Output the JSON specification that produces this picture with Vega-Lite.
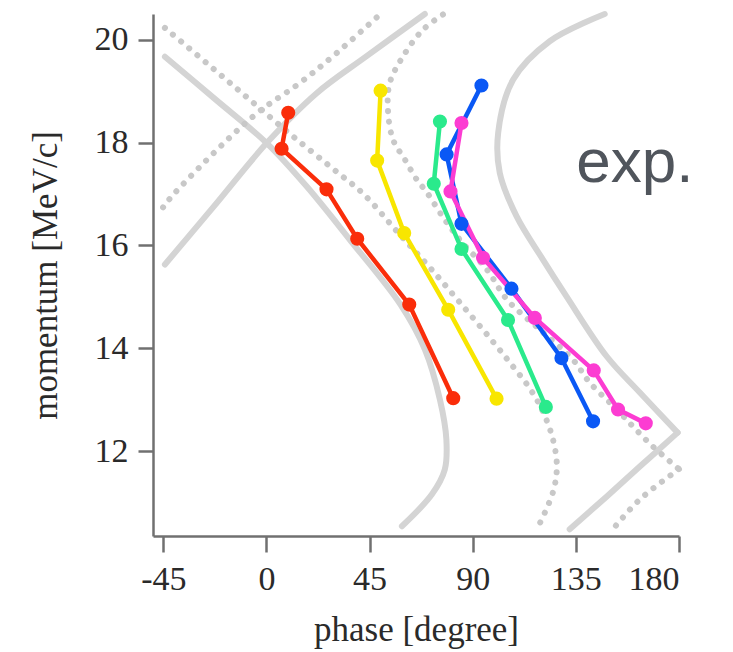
{
  "$schema": "https://vega.github.io/schema/vega-lite/v6.json",
  "autosize": {"type": "none"},
  "width": 526,
  "height": 522,
  "padding": {"left": 153, "top": 14, "right": 54, "bottom": 116},
  "background": "white",
  "config": {
    "view": {"stroke": null},
    "axis": {
      "grid": false,
      "domainColor": "#707070",
      "domainWidth": 2.5,
      "tickColor": "#707070",
      "tickWidth": 2.5,
      "labelFont": "Liberation Serif",
      "labelFontSize": 34,
      "labelColor": "#2a2a2a",
      "titleFont": "Liberation Serif",
      "titleFontSize": 35,
      "titleFontWeight": "normal",
      "titleColor": "#2a2a2a"
    }
  },
  "datasets": {
    "solid": [
      {"c": "S1", "i": 1, "x": -44.3, "y": 19.67},
      {"c": "S1", "i": 2, "x": -22.0, "y": 18.83},
      {"c": "S1", "i": 3, "x": 0.1, "y": 17.99},
      {"c": "S1", "i": 4, "x": 17.5, "y": 17.15},
      {"c": "S1", "i": 5, "x": 36.4, "y": 16.11},
      {"c": "S1", "i": 6, "x": 58.5, "y": 14.85},
      {"c": "S1", "i": 7, "x": 69.1, "y": 13.98},
      {"c": "S1", "i": 8, "x": 75.7, "y": 13.0},
      {"c": "S1", "i": 9, "x": 78.5, "y": 12.23},
      {"c": "S1", "i": 10, "x": 77.8, "y": 11.64},
      {"c": "S1", "i": 11, "x": 72.2, "y": 11.16},
      {"c": "S1", "i": 12, "x": 59.1, "y": 10.54},
      {"c": "S2", "i": 1, "x": -44.3, "y": 15.63},
      {"c": "S2", "i": 2, "x": -23.3, "y": 16.74},
      {"c": "S2", "i": 3, "x": 0.1, "y": 17.99},
      {"c": "S2", "i": 4, "x": 21.9, "y": 18.96},
      {"c": "S2", "i": 5, "x": 43.7, "y": 19.68},
      {"c": "S2", "i": 6, "x": 69.1, "y": 20.5},
      {"c": "S3a", "i": 1, "x": 147.6, "y": 20.5},
      {"c": "S3a", "i": 2, "x": 123.6, "y": 19.97},
      {"c": "S3a", "i": 3, "x": 107.6, "y": 19.22},
      {"c": "S3a", "i": 4, "x": 101.1, "y": 18.19},
      {"c": "S3a", "i": 5, "x": 101.8, "y": 17.41},
      {"c": "S3a", "i": 6, "x": 109.1, "y": 16.57},
      {"c": "S3a", "i": 7, "x": 120.7, "y": 15.72},
      {"c": "S3a", "i": 8, "x": 130.9, "y": 15.01},
      {"c": "S3a", "i": 9, "x": 148.5, "y": 13.84},
      {"c": "S3a", "i": 10, "x": 162.9, "y": 13.14},
      {"c": "S3a", "i": 11, "x": 179.4, "y": 12.36},
      {"c": "S3b", "i": 1, "x": 179.4, "y": 12.36},
      {"c": "S3b", "i": 2, "x": 162.9, "y": 11.7},
      {"c": "S3b", "i": 3, "x": 148.5, "y": 11.12},
      {"c": "S3b", "i": 4, "x": 132.3, "y": 10.48}
    ],
    "dotted": [
      {"c": "D1", "i": 1, "x": -44.3, "y": 20.23},
      {"c": "D1", "i": 2, "x": -24.6, "y": 19.49},
      {"c": "D1", "i": 3, "x": -7.2, "y": 18.83},
      {"c": "D1", "i": 4, "x": 11.6, "y": 18.12},
      {"c": "D1", "i": 5, "x": 30.7, "y": 17.43},
      {"c": "D1", "i": 6, "x": 42.1, "y": 17.01},
      {"c": "D1", "i": 7, "x": 58.2, "y": 16.21},
      {"c": "D1", "i": 8, "x": 71.3, "y": 15.57},
      {"c": "D1", "i": 9, "x": 84.4, "y": 14.89},
      {"c": "D1", "i": 10, "x": 98.8, "y": 14.13},
      {"c": "D1", "i": 11, "x": 107.5, "y": 13.65},
      {"c": "D1", "i": 12, "x": 114.9, "y": 13.22},
      {"c": "D1", "i": 13, "x": 120.6, "y": 12.77},
      {"c": "D1", "i": 14, "x": 125.0, "y": 12.23},
      {"c": "D1", "i": 15, "x": 126.7, "y": 11.7},
      {"c": "D1", "i": 16, "x": 125.0, "y": 11.2},
      {"c": "D1", "i": 17, "x": 118.0, "y": 10.48},
      {"c": "D2", "i": 1, "x": -45.1, "y": 16.74},
      {"c": "D2", "i": 2, "x": -40.6, "y": 16.99},
      {"c": "D2", "i": 3, "x": -5.8, "y": 18.51},
      {"c": "D2", "i": 4, "x": 14.6, "y": 19.16},
      {"c": "D2", "i": 5, "x": 30.6, "y": 19.74},
      {"c": "D2", "i": 6, "x": 49.5, "y": 20.49},
      {"c": "D3a", "i": 1, "x": 77.0, "y": 20.49},
      {"c": "D3a", "i": 2, "x": 68.2, "y": 20.19},
      {"c": "D3a", "i": 3, "x": 59.5, "y": 19.67},
      {"c": "D3a", "i": 4, "x": 53.8, "y": 19.16},
      {"c": "D3a", "i": 5, "x": 53.0, "y": 18.64},
      {"c": "D3a", "i": 6, "x": 55.2, "y": 18.06},
      {"c": "D3a", "i": 7, "x": 60.4, "y": 17.67},
      {"c": "D3a", "i": 8, "x": 65.6, "y": 17.28},
      {"c": "D3a", "i": 9, "x": 70.0, "y": 17.03},
      {"c": "D3a", "i": 10, "x": 77.8, "y": 16.5},
      {"c": "D3a", "i": 11, "x": 85.3, "y": 16.06},
      {"c": "D3a", "i": 12, "x": 96.2, "y": 15.53},
      {"c": "D3a", "i": 13, "x": 104.9, "y": 14.95},
      {"c": "D3a", "i": 14, "x": 119.3, "y": 14.36},
      {"c": "D3a", "i": 15, "x": 133.7, "y": 13.78},
      {"c": "D3a", "i": 16, "x": 141.1, "y": 13.33},
      {"c": "D3a", "i": 17, "x": 152.9, "y": 12.81},
      {"c": "D3a", "i": 18, "x": 159.9, "y": 12.48},
      {"c": "D3a", "i": 19, "x": 168.6, "y": 12.09},
      {"c": "D3a", "i": 20, "x": 180.0, "y": 11.65},
      {"c": "D3b", "i": 1, "x": 180.0, "y": 11.65},
      {"c": "D3b", "i": 2, "x": 162.9, "y": 11.06},
      {"c": "D3b", "i": 3, "x": 151.1, "y": 10.48}
    ],
    "obs": [
      {"g": "red", "i": 1, "x": 9.5, "y": 18.58},
      {"g": "red", "i": 2, "x": 6.6, "y": 17.88},
      {"g": "red", "i": 3, "x": 26.2, "y": 17.09},
      {"g": "red", "i": 4, "x": 39.6, "y": 16.13},
      {"g": "red", "i": 5, "x": 62.3, "y": 14.85},
      {"g": "red", "i": 6, "x": 81.5, "y": 13.03},
      {"g": "yellow", "i": 1, "x": 49.8, "y": 19.01},
      {"g": "yellow", "i": 2, "x": 48.3, "y": 17.65},
      {"g": "yellow", "i": 3, "x": 60.1, "y": 16.24},
      {"g": "yellow", "i": 4, "x": 79.3, "y": 14.75},
      {"g": "yellow", "i": 5, "x": 100.4, "y": 13.02},
      {"g": "green", "i": 1, "x": 75.7, "y": 18.41},
      {"g": "green", "i": 2, "x": 73.0, "y": 17.2},
      {"g": "green", "i": 3, "x": 85.1, "y": 15.93},
      {"g": "green", "i": 4, "x": 105.4, "y": 14.55},
      {"g": "green", "i": 5, "x": 121.9, "y": 12.86},
      {"g": "blue", "i": 1, "x": 93.8, "y": 19.11},
      {"g": "blue", "i": 2, "x": 78.6, "y": 17.77},
      {"g": "blue", "i": 3, "x": 85.1, "y": 16.42},
      {"g": "blue", "i": 4, "x": 106.9, "y": 15.16},
      {"g": "blue", "i": 5, "x": 128.7, "y": 13.81},
      {"g": "blue", "i": 6, "x": 142.5, "y": 12.58},
      {"g": "magenta", "i": 1, "x": 85.1, "y": 18.38},
      {"g": "magenta", "i": 2, "x": 80.3, "y": 17.05},
      {"g": "magenta", "i": 3, "x": 94.5, "y": 15.76},
      {"g": "magenta", "i": 4, "x": 117.1, "y": 14.59},
      {"g": "magenta", "i": 5, "x": 142.8, "y": 13.57},
      {"g": "magenta", "i": 6, "x": 153.4, "y": 12.81},
      {"g": "magenta", "i": 7, "x": 165.5, "y": 12.54}
    ],
    "label": [
      {"x": 160.7, "y": 17.23, "t": "exp."}
    ]
  },
  "encoding": {
    "x": {
      "field": "x", "type": "quantitative",
      "scale": {"domain": [-49.5, 180], "nice": false, "zero": false},
      "axis": {"values": [-45, 0, 45, 90, 135, 180], "labelExpr": "'' + datum.value", "title": "phase [degree]", "tickSize": 16, "labelPadding": 10, "titlePadding": 16}
    },
    "y": {
      "field": "y", "type": "quantitative",
      "scale": {"domain": [10.35, 20.5], "nice": false, "zero": false},
      "axis": {"values": [12, 14, 16, 18, 20], "title": "momentum [MeV/c]", "tickSize": 15, "labelPadding": 10, "titlePadding": 31}
    }
  },
  "layer": [
    {
      "data": {"name": "solid"},
      "mark": {"type": "line", "color": "#d4d4d4", "strokeWidth": 6, "strokeCap": "round", "strokeJoin": "round", "interpolate": "catmull-rom"},
      "encoding": {"detail": {"field": "c"}, "order": {"field": "i"}}
    },
    {
      "data": {"name": "dotted"},
      "mark": {"type": "line", "color": "#c8c8c8", "strokeWidth": 6, "strokeCap": "round", "strokeDash": [0.1, 10.5], "interpolate": "catmull-rom"},
      "encoding": {"detail": {"field": "c"}, "order": {"field": "i"}}
    },
    {
      "data": {"name": "obs"},
      "mark": {"type": "line", "strokeWidth": 4.5, "point": {"filled": true, "size": 200, "opacity": 1}},
      "encoding": {
        "order": {"field": "i"},
        "color": {
          "field": "g", "type": "nominal", "legend": null,
          "scale": {"domain": ["red", "yellow", "green", "blue", "magenta"], "range": ["#fa2d0a", "#f8e600", "#2aea8c", "#0a58f5", "#fc3cd2"]}
        }
      }
    },
    {
      "data": {"name": "label"},
      "mark": {"type": "text", "font": "Liberation Sans", "fontSize": 62, "color": "#50555c", "align": "center", "baseline": "alphabetic"},
      "encoding": {"text": {"field": "t"}}
    }
  ]
}
